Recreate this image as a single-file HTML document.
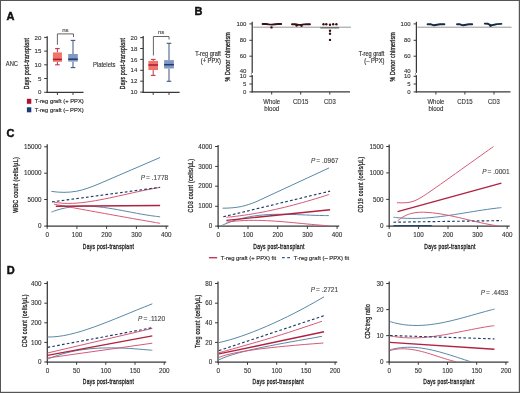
<!DOCTYPE html>
<html><head><meta charset="utf-8"><style>
html,body{margin:0;padding:0;background:#fff;}
body{width:520px;height:393px;overflow:hidden;position:relative;}
svg{display:block;filter:blur(0.35px);}
#bd{position:absolute;left:0;top:0;width:518px;height:391px;border:1px solid #555;box-shadow:inset -0.5px -0.5px 0 #bbb;box-sizing:content-box;}
text{font-family:"Liberation Sans", sans-serif;}
</style></head><body>
<svg width="520" height="393" viewBox="0 0 520 393">
<rect x="0" y="0" width="520" height="393" fill="#fff"/>
<text transform="translate(6.60,16.40)" text-anchor="start" dominant-baseline="central" style="font-size:11.0px;font-weight:bold;fill:#111;stroke:#111;stroke-width:0.45px;">A</text>
<line x1="47.20" y1="36.30" x2="47.20" y2="92.90" stroke="#383838" stroke-width="1.25" />
<line x1="46.60" y1="92.30" x2="83.50" y2="92.30" stroke="#383838" stroke-width="1.25" />
<line x1="44.20" y1="37.40" x2="47.20" y2="37.40" stroke="#383838" stroke-width="1.0" />
<text transform="translate(41.40,37.00)" text-anchor="end" dominant-baseline="central" style="font-size:6.1px;font-weight:normal;fill:#333;stroke:#333;stroke-width:0.12px;">20</text>
<line x1="44.20" y1="51.10" x2="47.20" y2="51.10" stroke="#383838" stroke-width="1.0" />
<text transform="translate(41.40,50.70)" text-anchor="end" dominant-baseline="central" style="font-size:6.1px;font-weight:normal;fill:#333;stroke:#333;stroke-width:0.12px;">15</text>
<line x1="44.20" y1="64.80" x2="47.20" y2="64.80" stroke="#383838" stroke-width="1.0" />
<text transform="translate(41.40,64.40)" text-anchor="end" dominant-baseline="central" style="font-size:6.1px;font-weight:normal;fill:#333;stroke:#333;stroke-width:0.12px;">10</text>
<line x1="44.20" y1="78.50" x2="47.20" y2="78.50" stroke="#383838" stroke-width="1.0" />
<text transform="translate(41.40,78.10)" text-anchor="end" dominant-baseline="central" style="font-size:6.1px;font-weight:normal;fill:#333;stroke:#333;stroke-width:0.12px;">5</text>
<line x1="44.20" y1="92.30" x2="47.20" y2="92.30" stroke="#383838" stroke-width="1.0" />
<text transform="translate(41.40,91.90)" text-anchor="end" dominant-baseline="central" style="font-size:6.1px;font-weight:normal;fill:#333;stroke:#333;stroke-width:0.12px;">0</text>
<line x1="57.40" y1="92.30" x2="57.40" y2="94.90" stroke="#383838" stroke-width="1.0" />
<line x1="73.00" y1="92.30" x2="73.00" y2="94.90" stroke="#383838" stroke-width="1.0" />
<line x1="57.40" y1="48.60" x2="57.40" y2="52.40" stroke="#c23350" stroke-width="1.0" />
<line x1="57.40" y1="61.80" x2="57.40" y2="64.80" stroke="#c23350" stroke-width="1.0" />
<line x1="55.10" y1="48.60" x2="59.70" y2="48.60" stroke="#c23350" stroke-width="1.1" />
<line x1="55.10" y1="64.80" x2="59.70" y2="64.80" stroke="#c23350" stroke-width="1.1" />
<rect x="52.90" y="52.40" width="9.00" height="9.40" fill="#f07468" stroke="none" stroke-width="0"/>
<line x1="52.90" y1="59.40" x2="61.90" y2="59.40" stroke="#a81a36" stroke-width="1.5" />
<line x1="73.00" y1="40.40" x2="73.00" y2="54.00" stroke="#3f557f" stroke-width="1.0" />
<line x1="73.00" y1="61.60" x2="73.00" y2="67.60" stroke="#3f557f" stroke-width="1.0" />
<line x1="70.70" y1="40.40" x2="75.30" y2="40.40" stroke="#3f557f" stroke-width="1.1" />
<line x1="70.70" y1="67.60" x2="75.30" y2="67.60" stroke="#3f557f" stroke-width="1.1" />
<rect x="68.20" y="54.00" width="9.60" height="7.60" fill="#8197c4" stroke="none" stroke-width="0"/>
<line x1="68.20" y1="59.20" x2="77.80" y2="59.20" stroke="#1e3a6a" stroke-width="1.5" />
<path d="M57.4,44.8 V33.9 H73.5 V37.1" fill="none" stroke="#555" stroke-width="0.9"/>
<text transform="translate(65.45,29.50)" text-anchor="middle" dominant-baseline="central" style="font-size:6.0px;font-weight:normal;fill:#444;stroke:#444;stroke-width:0.12px;">ns</text>
<text transform="translate(26.50,63.50) rotate(-90) scale(0.630,1)" text-anchor="middle" dominant-baseline="central" style="font-size:7.9px;font-weight:normal;fill:#2a2a2a;letter-spacing:0.45px;stroke:#2a2a2a;stroke-width:0.38px;">Days post-transplant</text>
<text transform="translate(5.80,64.00) scale(0.917,1)" text-anchor="start" dominant-baseline="central" style="font-size:6.3px;font-weight:normal;fill:#333;stroke:#333;stroke-width:0.12px;">ANC</text>
<line x1="143.20" y1="36.00" x2="143.20" y2="92.90" stroke="#383838" stroke-width="1.25" />
<line x1="142.60" y1="92.30" x2="179.60" y2="92.30" stroke="#383838" stroke-width="1.25" />
<line x1="140.20" y1="37.60" x2="143.20" y2="37.60" stroke="#383838" stroke-width="1.0" />
<text transform="translate(137.40,37.20)" text-anchor="end" dominant-baseline="central" style="font-size:6.1px;font-weight:normal;fill:#333;stroke:#333;stroke-width:0.12px;">20</text>
<line x1="140.20" y1="48.50" x2="143.20" y2="48.50" stroke="#383838" stroke-width="1.0" />
<text transform="translate(137.40,48.10)" text-anchor="end" dominant-baseline="central" style="font-size:6.1px;font-weight:normal;fill:#333;stroke:#333;stroke-width:0.12px;">18</text>
<line x1="140.20" y1="59.40" x2="143.20" y2="59.40" stroke="#383838" stroke-width="1.0" />
<text transform="translate(137.40,59.00)" text-anchor="end" dominant-baseline="central" style="font-size:6.1px;font-weight:normal;fill:#333;stroke:#333;stroke-width:0.12px;">16</text>
<line x1="140.20" y1="70.30" x2="143.20" y2="70.30" stroke="#383838" stroke-width="1.0" />
<text transform="translate(137.40,69.90)" text-anchor="end" dominant-baseline="central" style="font-size:6.1px;font-weight:normal;fill:#333;stroke:#333;stroke-width:0.12px;">14</text>
<line x1="140.20" y1="81.20" x2="143.20" y2="81.20" stroke="#383838" stroke-width="1.0" />
<text transform="translate(137.40,80.80)" text-anchor="end" dominant-baseline="central" style="font-size:6.1px;font-weight:normal;fill:#333;stroke:#333;stroke-width:0.12px;">12</text>
<line x1="140.20" y1="92.10" x2="143.20" y2="92.10" stroke="#383838" stroke-width="1.0" />
<text transform="translate(137.40,91.70)" text-anchor="end" dominant-baseline="central" style="font-size:6.1px;font-weight:normal;fill:#333;stroke:#333;stroke-width:0.12px;">10</text>
<line x1="153.20" y1="92.30" x2="153.20" y2="94.90" stroke="#383838" stroke-width="1.0" />
<line x1="169.00" y1="92.30" x2="169.00" y2="94.90" stroke="#383838" stroke-width="1.0" />
<line x1="153.20" y1="59.40" x2="153.20" y2="60.90" stroke="#c23350" stroke-width="1.0" />
<line x1="153.20" y1="70.00" x2="153.20" y2="75.40" stroke="#c23350" stroke-width="1.0" />
<line x1="150.90" y1="59.40" x2="155.50" y2="59.40" stroke="#c23350" stroke-width="1.1" />
<line x1="150.90" y1="75.40" x2="155.50" y2="75.40" stroke="#c23350" stroke-width="1.1" />
<rect x="148.40" y="60.90" width="9.60" height="9.10" fill="#f07468" stroke="none" stroke-width="0"/>
<line x1="148.40" y1="65.00" x2="158.00" y2="65.00" stroke="#a81a36" stroke-width="1.5" />
<line x1="169.00" y1="43.30" x2="169.00" y2="60.10" stroke="#3f557f" stroke-width="1.0" />
<line x1="169.00" y1="68.50" x2="169.00" y2="81.30" stroke="#3f557f" stroke-width="1.0" />
<line x1="166.70" y1="43.30" x2="171.30" y2="43.30" stroke="#3f557f" stroke-width="1.1" />
<line x1="166.70" y1="81.30" x2="171.30" y2="81.30" stroke="#3f557f" stroke-width="1.1" />
<rect x="164.10" y="60.10" width="9.80" height="8.40" fill="#8197c4" stroke="none" stroke-width="0"/>
<line x1="164.10" y1="64.70" x2="173.90" y2="64.70" stroke="#1e3a6a" stroke-width="1.5" />
<path d="M153.4,55.5 V36.5 H169.0 V39.5" fill="none" stroke="#555" stroke-width="0.9"/>
<text transform="translate(161.20,32.40)" text-anchor="middle" dominant-baseline="central" style="font-size:6.0px;font-weight:normal;fill:#444;stroke:#444;stroke-width:0.12px;">ns</text>
<text transform="translate(122.20,63.50) rotate(-90) scale(0.630,1)" text-anchor="middle" dominant-baseline="central" style="font-size:7.9px;font-weight:normal;fill:#2a2a2a;letter-spacing:0.45px;stroke:#2a2a2a;stroke-width:0.38px;">Days post-transplant</text>
<text transform="translate(93.00,64.00) scale(0.931,1)" text-anchor="start" dominant-baseline="central" style="font-size:6.3px;font-weight:normal;fill:#333;stroke:#333;stroke-width:0.12px;">Platelets</text>
<rect x="26.90" y="98.80" width="4.40" height="5.00" fill="#b01030" stroke="none" stroke-width="0"/>
<text transform="translate(34.75,101.40) scale(0.970,1)" text-anchor="start" dominant-baseline="central" style="font-size:6.0px;font-weight:normal;fill:#333;stroke:#333;stroke-width:0.18px;">T-reg graft (+ PPX)</text>
<rect x="26.90" y="107.30" width="4.40" height="5.00" fill="#1a3a78" stroke="none" stroke-width="0"/>
<text transform="translate(34.75,109.90) scale(0.973,1)" text-anchor="start" dominant-baseline="central" style="font-size:6.0px;font-weight:normal;fill:#333;stroke:#333;stroke-width:0.18px;">T-reg graft (– PPX)</text>
<text transform="translate(194.60,11.40)" text-anchor="start" dominant-baseline="central" style="font-size:11.0px;font-weight:bold;fill:#111;stroke:#111;stroke-width:0.45px;">B</text>
<line x1="252.20" y1="21.80" x2="252.20" y2="72.40" stroke="#383838" stroke-width="1.25" />
<line x1="252.20" y1="75.20" x2="252.20" y2="92.50" stroke="#383838" stroke-width="1.25" />
<path d="M252.5,72.2 L251.29999999999998,73.6 M251.29999999999998,74.9 L252.5,76.0" stroke="#383838" stroke-width="1.0"/>
<line x1="251.60" y1="91.90" x2="350.00" y2="91.90" stroke="#383838" stroke-width="1.25" />
<line x1="249.40" y1="23.90" x2="252.20" y2="23.90" stroke="#383838" stroke-width="1.0" />
<text transform="translate(246.40,23.90)" text-anchor="end" dominant-baseline="central" style="font-size:6.0px;font-weight:normal;fill:#333;stroke:#333;stroke-width:0.12px;">100</text>
<line x1="249.40" y1="40.30" x2="252.20" y2="40.30" stroke="#383838" stroke-width="1.0" />
<text transform="translate(246.40,40.30)" text-anchor="end" dominant-baseline="central" style="font-size:6.0px;font-weight:normal;fill:#333;stroke:#333;stroke-width:0.12px;">80</text>
<line x1="249.40" y1="56.20" x2="252.20" y2="56.20" stroke="#383838" stroke-width="1.0" />
<text transform="translate(246.40,56.20)" text-anchor="end" dominant-baseline="central" style="font-size:6.0px;font-weight:normal;fill:#333;stroke:#333;stroke-width:0.12px;">60</text>
<text transform="translate(246.40,70.90)" text-anchor="end" dominant-baseline="central" style="font-size:6.0px;font-weight:normal;fill:#333;stroke:#333;stroke-width:0.12px;">40</text>
<line x1="249.40" y1="76.30" x2="252.20" y2="76.30" stroke="#383838" stroke-width="1.0" />
<text transform="translate(246.40,76.30)" text-anchor="end" dominant-baseline="central" style="font-size:6.0px;font-weight:normal;fill:#333;stroke:#333;stroke-width:0.12px;">10</text>
<line x1="249.40" y1="84.00" x2="252.20" y2="84.00" stroke="#383838" stroke-width="1.0" />
<text transform="translate(246.40,84.00)" text-anchor="end" dominant-baseline="central" style="font-size:6.0px;font-weight:normal;fill:#333;stroke:#333;stroke-width:0.12px;">5</text>
<line x1="249.40" y1="91.90" x2="252.20" y2="91.90" stroke="#383838" stroke-width="1.0" />
<text transform="translate(246.40,91.90)" text-anchor="end" dominant-baseline="central" style="font-size:6.0px;font-weight:normal;fill:#333;stroke:#333;stroke-width:0.12px;">0</text>
<line x1="271.70" y1="91.90" x2="271.70" y2="94.50" stroke="#383838" stroke-width="1.0" />
<line x1="300.70" y1="91.90" x2="300.70" y2="94.50" stroke="#383838" stroke-width="1.0" />
<line x1="329.80" y1="91.90" x2="329.80" y2="94.50" stroke="#383838" stroke-width="1.0" />
<text transform="translate(271.70,101.30) scale(0.932,1)" text-anchor="middle" dominant-baseline="central" style="font-size:6.4px;font-weight:normal;fill:#333;stroke:#333;stroke-width:0.12px;">Whole</text>
<text transform="translate(271.70,108.90) scale(0.958,1)" text-anchor="middle" dominant-baseline="central" style="font-size:6.4px;font-weight:normal;fill:#333;stroke:#333;stroke-width:0.12px;">blood</text>
<text transform="translate(300.70,101.30) scale(0.947,1)" text-anchor="middle" dominant-baseline="central" style="font-size:6.4px;font-weight:normal;fill:#333;stroke:#333;stroke-width:0.12px;">CD15</text>
<text transform="translate(329.80,101.30) scale(0.922,1)" text-anchor="middle" dominant-baseline="central" style="font-size:6.4px;font-weight:normal;fill:#333;stroke:#333;stroke-width:0.12px;">CD3</text>
<line x1="253.20" y1="27.20" x2="351.00" y2="27.20" stroke="#7a7a7a" stroke-width="0.8" />
<text transform="translate(220.90,53.20) scale(0.847,1)" text-anchor="end" dominant-baseline="central" style="font-size:6.6px;font-weight:normal;fill:#333;stroke:#333;stroke-width:0.18px;">T-reg graft</text>
<text transform="translate(220.90,60.30) scale(0.867,1)" text-anchor="end" dominant-baseline="central" style="font-size:6.6px;font-weight:normal;fill:#333;stroke:#333;stroke-width:0.18px;">(+ PPX)</text>
<text transform="translate(227.40,56.80) rotate(-90) scale(0.757,1)" text-anchor="middle" dominant-baseline="central" style="font-size:6.9px;font-weight:normal;fill:#2a2a2a;letter-spacing:0.3px;stroke:#2a2a2a;stroke-width:0.35px;">% Donor chimerism</text>
<path d="M262.60,24.00 L266.00,24.00 L269.00,24.40 L272.00,24.60 L275.00,24.20 L278.00,24.00 L281.20,24.00" fill="none" stroke="#3a0e16" stroke-width="1.9" stroke-linecap="round" stroke-linejoin="round"/>
<path d="M292.00,24.20 L295.00,24.30 L298.00,24.80 L301.00,24.90 L304.00,24.40 L307.00,24.20 L310.00,24.20" fill="none" stroke="#3a0e16" stroke-width="1.9" stroke-linecap="round" stroke-linejoin="round"/>
<circle cx="271.50" cy="27.40" r="1.2" fill="#3a0e16"/>
<circle cx="296.60" cy="25.60" r="1.2" fill="#3a0e16"/>
<circle cx="301.50" cy="25.80" r="1.2" fill="#3a0e16"/>
<circle cx="323.50" cy="24.30" r="1.2" fill="#3a0e16"/>
<circle cx="326.30" cy="24.30" r="1.2" fill="#3a0e16"/>
<circle cx="330.00" cy="24.80" r="1.2" fill="#3a0e16"/>
<circle cx="333.20" cy="24.30" r="1.2" fill="#3a0e16"/>
<circle cx="336.40" cy="24.30" r="1.2" fill="#3a0e16"/>
<circle cx="330.00" cy="30.70" r="1.2" fill="#3a0e16"/>
<circle cx="330.00" cy="33.70" r="1.2" fill="#3a0e16"/>
<circle cx="330.00" cy="39.90" r="1.2" fill="#3a0e16"/>
<line x1="320.30" y1="27.90" x2="339.10" y2="27.90" stroke="#3a3a3a" stroke-width="0.9" />
<line x1="416.40" y1="21.80" x2="416.40" y2="72.40" stroke="#383838" stroke-width="1.25" />
<line x1="416.40" y1="75.20" x2="416.40" y2="92.50" stroke="#383838" stroke-width="1.25" />
<path d="M416.7,72.2 L415.5,73.6 M415.5,74.9 L416.7,76.0" stroke="#383838" stroke-width="1.0"/>
<line x1="415.80" y1="91.90" x2="510.50" y2="91.90" stroke="#383838" stroke-width="1.25" />
<line x1="413.60" y1="23.90" x2="416.40" y2="23.90" stroke="#383838" stroke-width="1.0" />
<text transform="translate(410.60,23.90)" text-anchor="end" dominant-baseline="central" style="font-size:6.0px;font-weight:normal;fill:#333;stroke:#333;stroke-width:0.12px;">100</text>
<line x1="413.60" y1="40.30" x2="416.40" y2="40.30" stroke="#383838" stroke-width="1.0" />
<text transform="translate(410.60,40.30)" text-anchor="end" dominant-baseline="central" style="font-size:6.0px;font-weight:normal;fill:#333;stroke:#333;stroke-width:0.12px;">80</text>
<line x1="413.60" y1="56.20" x2="416.40" y2="56.20" stroke="#383838" stroke-width="1.0" />
<text transform="translate(410.60,56.20)" text-anchor="end" dominant-baseline="central" style="font-size:6.0px;font-weight:normal;fill:#333;stroke:#333;stroke-width:0.12px;">60</text>
<text transform="translate(410.60,70.90)" text-anchor="end" dominant-baseline="central" style="font-size:6.0px;font-weight:normal;fill:#333;stroke:#333;stroke-width:0.12px;">40</text>
<line x1="413.60" y1="76.30" x2="416.40" y2="76.30" stroke="#383838" stroke-width="1.0" />
<text transform="translate(410.60,76.30)" text-anchor="end" dominant-baseline="central" style="font-size:6.0px;font-weight:normal;fill:#333;stroke:#333;stroke-width:0.12px;">10</text>
<line x1="413.60" y1="84.00" x2="416.40" y2="84.00" stroke="#383838" stroke-width="1.0" />
<text transform="translate(410.60,84.00)" text-anchor="end" dominant-baseline="central" style="font-size:6.0px;font-weight:normal;fill:#333;stroke:#333;stroke-width:0.12px;">5</text>
<line x1="413.60" y1="91.90" x2="416.40" y2="91.90" stroke="#383838" stroke-width="1.0" />
<text transform="translate(410.60,91.90)" text-anchor="end" dominant-baseline="central" style="font-size:6.0px;font-weight:normal;fill:#333;stroke:#333;stroke-width:0.12px;">0</text>
<line x1="435.90" y1="91.90" x2="435.90" y2="94.50" stroke="#383838" stroke-width="1.0" />
<line x1="464.90" y1="91.90" x2="464.90" y2="94.50" stroke="#383838" stroke-width="1.0" />
<line x1="494.00" y1="91.90" x2="494.00" y2="94.50" stroke="#383838" stroke-width="1.0" />
<text transform="translate(435.90,101.30) scale(0.932,1)" text-anchor="middle" dominant-baseline="central" style="font-size:6.4px;font-weight:normal;fill:#333;stroke:#333;stroke-width:0.12px;">Whole</text>
<text transform="translate(435.90,108.90) scale(0.958,1)" text-anchor="middle" dominant-baseline="central" style="font-size:6.4px;font-weight:normal;fill:#333;stroke:#333;stroke-width:0.12px;">blood</text>
<text transform="translate(464.90,101.30) scale(0.947,1)" text-anchor="middle" dominant-baseline="central" style="font-size:6.4px;font-weight:normal;fill:#333;stroke:#333;stroke-width:0.12px;">CD15</text>
<text transform="translate(494.00,101.30) scale(0.922,1)" text-anchor="middle" dominant-baseline="central" style="font-size:6.4px;font-weight:normal;fill:#333;stroke:#333;stroke-width:0.12px;">CD3</text>
<line x1="417.40" y1="27.20" x2="511.50" y2="27.20" stroke="#7a7a7a" stroke-width="0.8" />
<text transform="translate(384.40,53.00) scale(0.847,1)" text-anchor="end" dominant-baseline="central" style="font-size:6.6px;font-weight:normal;fill:#333;stroke:#333;stroke-width:0.18px;">T-reg graft</text>
<text transform="translate(384.40,60.20) scale(0.874,1)" text-anchor="end" dominant-baseline="central" style="font-size:6.6px;font-weight:normal;fill:#333;stroke:#333;stroke-width:0.18px;">(– PPX)</text>
<text transform="translate(391.90,56.80) rotate(-90) scale(0.757,1)" text-anchor="middle" dominant-baseline="central" style="font-size:6.9px;font-weight:normal;fill:#2a2a2a;letter-spacing:0.3px;stroke:#2a2a2a;stroke-width:0.35px;">% Donor chimerism</text>
<path d="M427.60,24.30 L431.00,24.30 L434.00,25.30 L437.00,24.70 L440.00,24.20 L444.40,24.20" fill="none" stroke="#172a45" stroke-width="1.9" stroke-linecap="round" stroke-linejoin="round"/>
<path d="M457.00,24.30 L460.00,24.30 L463.00,25.30 L466.00,24.70 L469.00,24.20 L472.20,24.20" fill="none" stroke="#172a45" stroke-width="1.9" stroke-linecap="round" stroke-linejoin="round"/>
<path d="M484.80,23.60 L488.00,23.80 L491.00,25.40 L494.00,24.80 L497.00,24.10 L501.40,23.90" fill="none" stroke="#172a45" stroke-width="1.9" stroke-linecap="round" stroke-linejoin="round"/>
<circle cx="490.50" cy="25.80" r="1.2" fill="#172a45"/>
<text transform="translate(6.60,133.30)" text-anchor="start" dominant-baseline="central" style="font-size:11.0px;font-weight:bold;fill:#111;stroke:#111;stroke-width:0.45px;">C</text>
<line x1="47.20" y1="144.20" x2="47.20" y2="226.70" stroke="#383838" stroke-width="1.25" />
<line x1="46.60" y1="226.10" x2="168.40" y2="226.10" stroke="#383838" stroke-width="1.25" />
<line x1="44.20" y1="146.80" x2="47.20" y2="146.80" stroke="#383838" stroke-width="1.0" />
<text transform="translate(41.40,146.40)" text-anchor="end" dominant-baseline="central" style="font-size:6.3px;font-weight:normal;fill:#333;stroke:#333;stroke-width:0.12px;">15000</text>
<line x1="44.20" y1="173.20" x2="47.20" y2="173.20" stroke="#383838" stroke-width="1.0" />
<text transform="translate(41.40,172.80)" text-anchor="end" dominant-baseline="central" style="font-size:6.3px;font-weight:normal;fill:#333;stroke:#333;stroke-width:0.12px;">10000</text>
<line x1="44.20" y1="199.50" x2="47.20" y2="199.50" stroke="#383838" stroke-width="1.0" />
<text transform="translate(41.40,199.10)" text-anchor="end" dominant-baseline="central" style="font-size:6.3px;font-weight:normal;fill:#333;stroke:#333;stroke-width:0.12px;">5000</text>
<line x1="44.20" y1="226.10" x2="47.20" y2="226.10" stroke="#383838" stroke-width="1.0" />
<text transform="translate(41.40,225.70)" text-anchor="end" dominant-baseline="central" style="font-size:6.3px;font-weight:normal;fill:#333;stroke:#333;stroke-width:0.12px;">0</text>
<line x1="47.20" y1="226.10" x2="47.20" y2="228.90" stroke="#383838" stroke-width="1.0" />
<text transform="translate(47.20,234.70)" text-anchor="middle" dominant-baseline="central" style="font-size:6.3px;font-weight:normal;fill:#333;stroke:#333;stroke-width:0.12px;">0</text>
<line x1="76.90" y1="226.10" x2="76.90" y2="228.90" stroke="#383838" stroke-width="1.0" />
<text transform="translate(76.90,234.70)" text-anchor="middle" dominant-baseline="central" style="font-size:6.3px;font-weight:normal;fill:#333;stroke:#333;stroke-width:0.12px;">100</text>
<line x1="106.60" y1="226.10" x2="106.60" y2="228.90" stroke="#383838" stroke-width="1.0" />
<text transform="translate(106.60,234.70)" text-anchor="middle" dominant-baseline="central" style="font-size:6.3px;font-weight:normal;fill:#333;stroke:#333;stroke-width:0.12px;">200</text>
<line x1="136.40" y1="226.10" x2="136.40" y2="228.90" stroke="#383838" stroke-width="1.0" />
<text transform="translate(136.40,234.70)" text-anchor="middle" dominant-baseline="central" style="font-size:6.3px;font-weight:normal;fill:#333;stroke:#333;stroke-width:0.12px;">300</text>
<line x1="166.20" y1="226.10" x2="166.20" y2="228.90" stroke="#383838" stroke-width="1.0" />
<text transform="translate(166.20,234.70)" text-anchor="middle" dominant-baseline="central" style="font-size:6.3px;font-weight:normal;fill:#333;stroke:#333;stroke-width:0.12px;">400</text>
<text transform="translate(16.30,184.95) rotate(-90) scale(0.833,1)" text-anchor="middle" dominant-baseline="central" style="font-size:6.5px;font-weight:normal;fill:#2a2a2a;letter-spacing:0.3px;stroke:#2a2a2a;stroke-width:0.3px;">WBC count (cells/µL)</text>
<text transform="translate(140.80,177.00)" text-anchor="start" dominant-baseline="central" style="font-size:6.4px;font-weight:normal;fill:#444;stroke:#444;stroke-width:0.12px;font-style:italic;">P</text>
<text transform="translate(146.10,177.00)" text-anchor="start" dominant-baseline="central" style="font-size:6.6px;font-weight:normal;fill:#444;stroke:#444;stroke-width:0.12px;">= .1778</text>
<text transform="translate(108.50,245.80) scale(0.630,1)" text-anchor="middle" dominant-baseline="central" style="font-size:7.9px;font-weight:normal;fill:#2a2a2a;letter-spacing:0.45px;stroke:#2a2a2a;stroke-width:0.38px;">Days post-transplant</text>
<path d="M51.4,191.4 C60,192.6 68,192.8 76.8,191.2 C84,189.9 92,186.7 100,183.4 L160.1,157.5" fill="none" stroke="#5a88a8" stroke-width="1.0"/>
<path d="M53.90,202.16 C54.67,202.28 56.98,202.66 58.52,202.84 C60.06,203.02 61.60,203.15 63.13,203.25 C64.67,203.34 66.21,203.39 67.75,203.41 C69.29,203.42 70.83,203.40 72.37,203.34 C73.91,203.29 75.45,203.20 76.99,203.09 C78.53,202.97 80.07,202.83 81.60,202.66 C83.14,202.50 84.68,202.31 86.22,202.10 C87.76,201.89 89.30,201.66 90.84,201.42 C92.38,201.18 93.92,200.92 95.46,200.65 C97.00,200.38 98.53,200.10 100.07,199.82 C101.61,199.53 103.15,199.23 104.69,198.92 C106.23,198.61 107.77,198.30 109.31,197.98 C110.85,197.65 112.39,197.33 113.93,196.99 C115.47,196.66 117.00,196.32 118.54,195.99 C120.08,195.65 121.62,195.30 123.16,194.96 C124.70,194.62 126.24,194.27 127.78,193.93 C129.32,193.59 130.86,193.24 132.40,192.90 C133.93,192.56 135.47,192.22 137.01,191.89 C138.55,191.55 140.09,191.22 141.63,190.90 C143.17,190.58 144.71,190.26 146.25,189.95 C147.79,189.64 149.33,189.33 150.87,189.04 C152.40,188.75 153.94,188.46 155.48,188.19 C157.02,187.92 159.33,187.54 160.10,187.41" fill="none" stroke="#d65a78" stroke-width="1.0"/>
<path d="M51.40,212.07 C52.19,211.78 54.55,210.88 56.13,210.36 C57.70,209.85 59.28,209.39 60.85,208.98 C62.43,208.57 64.00,208.21 65.58,207.89 C67.15,207.57 68.73,207.31 70.30,207.08 C71.88,206.85 73.46,206.67 75.03,206.53 C76.61,206.38 78.18,206.28 79.76,206.21 C81.33,206.14 82.91,206.11 84.48,206.11 C86.06,206.10 87.63,206.14 89.21,206.20 C90.78,206.26 92.36,206.35 93.93,206.46 C95.51,206.58 97.09,206.72 98.66,206.88 C100.24,207.04 101.81,207.23 103.39,207.43 C104.96,207.63 106.54,207.86 108.11,208.09 C109.69,208.33 111.26,208.58 112.84,208.84 C114.41,209.11 115.99,209.38 117.57,209.67 C119.14,209.95 120.72,210.24 122.29,210.54 C123.87,210.83 125.44,211.13 127.02,211.44 C128.59,211.74 130.17,212.04 131.74,212.34 C133.32,212.64 134.89,212.94 136.47,213.24 C138.04,213.53 139.62,213.82 141.20,214.10 C142.77,214.38 144.35,214.65 145.92,214.90 C147.50,215.16 149.07,215.41 150.65,215.63 C152.22,215.86 153.80,216.08 155.37,216.27 C156.95,216.46 159.31,216.70 160.10,216.79" fill="none" stroke="#5a88a8" stroke-width="1.0"/>
<path d="M53.90,204.13 C54.67,204.27 56.98,204.70 58.52,204.99 C60.06,205.28 61.60,205.57 63.13,205.86 C64.67,206.14 66.21,206.43 67.75,206.72 C69.29,207.01 70.83,207.29 72.37,207.58 C73.91,207.86 75.45,208.15 76.99,208.43 C78.53,208.72 80.07,209.00 81.60,209.29 C83.14,209.57 84.68,209.86 86.22,210.14 C87.76,210.42 89.30,210.71 90.84,210.99 C92.38,211.27 93.92,211.55 95.46,211.83 C97.00,212.11 98.53,212.39 100.07,212.67 C101.61,212.95 103.15,213.23 104.69,213.51 C106.23,213.79 107.77,214.07 109.31,214.35 C110.85,214.63 112.39,214.91 113.93,215.18 C115.47,215.46 117.00,215.74 118.54,216.01 C120.08,216.29 121.62,216.56 123.16,216.84 C124.70,217.11 126.24,217.39 127.78,217.66 C129.32,217.93 130.86,218.21 132.40,218.48 C133.93,218.75 135.47,219.02 137.01,219.29 C138.55,219.57 140.09,219.84 141.63,220.11 C143.17,220.38 144.71,220.65 146.25,220.91 C147.79,221.18 149.33,221.45 150.87,221.72 C152.40,221.99 153.94,222.25 155.48,222.52 C157.02,222.79 159.33,223.18 160.10,223.32" fill="none" stroke="#d65a78" stroke-width="1.0"/>
<path d="M55.80,206.30 L160.10,205.50" fill="none" stroke="#b0223f" stroke-width="1.4"/>
<path d="M52.00,201.90 L160.10,187.30" fill="none" stroke="#1d3d63" stroke-width="1.15" stroke-dasharray="2.7,2.2"/>
<line x1="218.10" y1="145.00" x2="218.10" y2="226.70" stroke="#383838" stroke-width="1.25" />
<line x1="217.50" y1="226.10" x2="339.20" y2="226.10" stroke="#383838" stroke-width="1.25" />
<line x1="215.10" y1="146.50" x2="218.10" y2="146.50" stroke="#383838" stroke-width="1.0" />
<text transform="translate(212.30,146.10)" text-anchor="end" dominant-baseline="central" style="font-size:6.3px;font-weight:normal;fill:#333;stroke:#333;stroke-width:0.12px;">4000</text>
<line x1="215.10" y1="166.40" x2="218.10" y2="166.40" stroke="#383838" stroke-width="1.0" />
<text transform="translate(212.30,166.00)" text-anchor="end" dominant-baseline="central" style="font-size:6.3px;font-weight:normal;fill:#333;stroke:#333;stroke-width:0.12px;">3000</text>
<line x1="215.10" y1="186.20" x2="218.10" y2="186.20" stroke="#383838" stroke-width="1.0" />
<text transform="translate(212.30,185.80)" text-anchor="end" dominant-baseline="central" style="font-size:6.3px;font-weight:normal;fill:#333;stroke:#333;stroke-width:0.12px;">2000</text>
<line x1="215.10" y1="206.30" x2="218.10" y2="206.30" stroke="#383838" stroke-width="1.0" />
<text transform="translate(212.30,205.90)" text-anchor="end" dominant-baseline="central" style="font-size:6.3px;font-weight:normal;fill:#333;stroke:#333;stroke-width:0.12px;">1000</text>
<line x1="215.10" y1="226.10" x2="218.10" y2="226.10" stroke="#383838" stroke-width="1.0" />
<text transform="translate(212.30,225.70)" text-anchor="end" dominant-baseline="central" style="font-size:6.3px;font-weight:normal;fill:#333;stroke:#333;stroke-width:0.12px;">0</text>
<line x1="218.30" y1="226.10" x2="218.30" y2="228.90" stroke="#383838" stroke-width="1.0" />
<text transform="translate(218.30,234.70)" text-anchor="middle" dominant-baseline="central" style="font-size:6.3px;font-weight:normal;fill:#333;stroke:#333;stroke-width:0.12px;">0</text>
<line x1="248.00" y1="226.10" x2="248.00" y2="228.90" stroke="#383838" stroke-width="1.0" />
<text transform="translate(248.00,234.70)" text-anchor="middle" dominant-baseline="central" style="font-size:6.3px;font-weight:normal;fill:#333;stroke:#333;stroke-width:0.12px;">100</text>
<line x1="277.70" y1="226.10" x2="277.70" y2="228.90" stroke="#383838" stroke-width="1.0" />
<text transform="translate(277.70,234.70)" text-anchor="middle" dominant-baseline="central" style="font-size:6.3px;font-weight:normal;fill:#333;stroke:#333;stroke-width:0.12px;">200</text>
<line x1="307.40" y1="226.10" x2="307.40" y2="228.90" stroke="#383838" stroke-width="1.0" />
<text transform="translate(307.40,234.70)" text-anchor="middle" dominant-baseline="central" style="font-size:6.3px;font-weight:normal;fill:#333;stroke:#333;stroke-width:0.12px;">300</text>
<line x1="337.10" y1="226.10" x2="337.10" y2="228.90" stroke="#383838" stroke-width="1.0" />
<text transform="translate(337.10,234.70)" text-anchor="middle" dominant-baseline="central" style="font-size:6.3px;font-weight:normal;fill:#333;stroke:#333;stroke-width:0.12px;">400</text>
<text transform="translate(190.40,185.55) rotate(-90) scale(0.827,1)" text-anchor="middle" dominant-baseline="central" style="font-size:6.5px;font-weight:normal;fill:#2a2a2a;letter-spacing:0.3px;stroke:#2a2a2a;stroke-width:0.3px;">CD3 count (cells/µL)</text>
<text transform="translate(311.00,160.00)" text-anchor="start" dominant-baseline="central" style="font-size:6.4px;font-weight:normal;fill:#444;stroke:#444;stroke-width:0.12px;font-style:italic;">P</text>
<text transform="translate(316.30,160.00)" text-anchor="start" dominant-baseline="central" style="font-size:6.6px;font-weight:normal;fill:#444;stroke:#444;stroke-width:0.12px;">= .0967</text>
<text transform="translate(279.00,246.00) scale(0.630,1)" text-anchor="middle" dominant-baseline="central" style="font-size:7.9px;font-weight:normal;fill:#2a2a2a;letter-spacing:0.45px;stroke:#2a2a2a;stroke-width:0.38px;">Days post-transplant</text>
<path d="M222.6,208.2 C238,208.2 246,205.8 256,201.8 L329.1,167.9" fill="none" stroke="#5a88a8" stroke-width="1.0"/>
<path d="M226.40,217.31 C227.14,217.24 229.38,217.03 230.87,216.87 C232.35,216.71 233.84,216.54 235.33,216.37 C236.82,216.19 238.31,216.00 239.80,215.81 C241.28,215.61 242.77,215.40 244.26,215.19 C245.75,214.97 247.24,214.75 248.73,214.52 C250.21,214.28 251.70,214.04 253.19,213.79 C254.68,213.54 256.17,213.28 257.66,213.01 C259.14,212.74 260.63,212.46 262.12,212.18 C263.61,211.89 265.10,211.60 266.59,211.30 C268.08,211.00 269.56,210.69 271.05,210.37 C272.54,210.05 274.03,209.72 275.52,209.39 C277.01,209.06 278.49,208.72 279.98,208.37 C281.47,208.02 282.96,207.66 284.45,207.30 C285.94,206.94 287.42,206.57 288.91,206.19 C290.40,205.81 291.89,205.43 293.38,205.04 C294.87,204.65 296.36,204.25 297.84,203.84 C299.33,203.44 300.82,203.03 302.31,202.61 C303.80,202.19 305.29,201.77 306.77,201.34 C308.26,200.91 309.75,200.48 311.24,200.03 C312.73,199.59 314.22,199.14 315.70,198.69 C317.19,198.24 318.68,197.78 320.17,197.32 C321.66,196.85 323.15,196.38 324.63,195.91 C326.12,195.43 328.36,194.71 329.10,194.47" fill="none" stroke="#d65a78" stroke-width="1.0"/>
<path d="M221.40,225.64 C222.18,225.29 224.52,224.21 226.08,223.57 C227.64,222.92 229.20,222.32 230.77,221.75 C232.33,221.19 233.89,220.67 235.45,220.18 C237.01,219.69 238.57,219.24 240.13,218.83 C241.69,218.41 243.25,218.04 244.81,217.69 C246.37,217.34 247.93,217.03 249.50,216.74 C251.06,216.45 252.62,216.20 254.18,215.97 C255.74,215.74 257.30,215.54 258.86,215.37 C260.42,215.19 261.98,215.04 263.54,214.91 C265.10,214.78 266.67,214.68 268.23,214.59 C269.79,214.50 271.35,214.43 272.91,214.38 C274.47,214.33 276.03,214.30 277.59,214.28 C279.15,214.26 280.71,214.26 282.27,214.27 C283.83,214.27 285.40,214.30 286.96,214.32 C288.52,214.35 290.08,214.39 291.64,214.44 C293.20,214.49 294.76,214.54 296.32,214.60 C297.88,214.66 299.44,214.72 301.00,214.78 C302.57,214.85 304.13,214.91 305.69,214.98 C307.25,215.04 308.81,215.11 310.37,215.17 C311.93,215.23 313.49,215.29 315.05,215.35 C316.61,215.40 318.17,215.45 319.73,215.49 C321.30,215.53 322.86,215.56 324.42,215.58 C325.98,215.60 328.32,215.60 329.10,215.61" fill="none" stroke="#5a88a8" stroke-width="1.0"/>
<path d="M226.40,222.14 C227.14,222.05 229.38,221.74 230.87,221.57 C232.35,221.40 233.84,221.25 235.33,221.11 C236.82,220.98 238.31,220.87 239.80,220.77 C241.28,220.67 242.77,220.60 244.26,220.53 C245.75,220.47 247.24,220.43 248.73,220.39 C250.21,220.36 251.70,220.35 253.19,220.34 C254.68,220.34 256.17,220.35 257.66,220.38 C259.14,220.40 260.63,220.44 262.12,220.48 C263.61,220.53 265.10,220.59 266.59,220.66 C268.08,220.73 269.56,220.81 271.05,220.89 C272.54,220.98 274.03,221.07 275.52,221.18 C277.01,221.28 278.49,221.39 279.98,221.50 C281.47,221.62 282.96,221.74 284.45,221.87 C285.94,221.99 287.42,222.13 288.91,222.26 C290.40,222.39 291.89,222.53 293.38,222.67 C294.87,222.81 296.36,222.95 297.84,223.10 C299.33,223.24 300.82,223.38 302.31,223.53 C303.80,223.67 305.29,223.81 306.77,223.96 C308.26,224.10 309.75,224.24 311.24,224.37 C312.73,224.51 314.22,224.64 315.70,224.77 C317.19,224.90 318.68,225.03 320.17,225.15 C321.66,225.27 323.15,225.38 324.63,225.49 C326.12,225.59 328.36,225.74 329.10,225.79" fill="none" stroke="#d65a78" stroke-width="1.0"/>
<path d="M226.40,220.40 L330.10,209.70" fill="none" stroke="#b0223f" stroke-width="1.4"/>
<path d="M223.30,216.80 L330.10,191.10" fill="none" stroke="#1d3d63" stroke-width="1.15" stroke-dasharray="2.7,2.2"/>
<line x1="389.20" y1="144.50" x2="389.20" y2="226.70" stroke="#383838" stroke-width="1.25" />
<line x1="388.60" y1="226.10" x2="509.70" y2="226.10" stroke="#383838" stroke-width="1.25" />
<line x1="386.20" y1="146.50" x2="389.20" y2="146.50" stroke="#383838" stroke-width="1.0" />
<text transform="translate(383.40,146.10)" text-anchor="end" dominant-baseline="central" style="font-size:6.3px;font-weight:normal;fill:#333;stroke:#333;stroke-width:0.12px;">1500</text>
<line x1="386.20" y1="172.90" x2="389.20" y2="172.90" stroke="#383838" stroke-width="1.0" />
<text transform="translate(383.40,172.50)" text-anchor="end" dominant-baseline="central" style="font-size:6.3px;font-weight:normal;fill:#333;stroke:#333;stroke-width:0.12px;">1000</text>
<line x1="386.20" y1="199.40" x2="389.20" y2="199.40" stroke="#383838" stroke-width="1.0" />
<text transform="translate(383.40,199.00)" text-anchor="end" dominant-baseline="central" style="font-size:6.3px;font-weight:normal;fill:#333;stroke:#333;stroke-width:0.12px;">500</text>
<line x1="386.20" y1="226.10" x2="389.20" y2="226.10" stroke="#383838" stroke-width="1.0" />
<text transform="translate(383.40,225.70)" text-anchor="end" dominant-baseline="central" style="font-size:6.3px;font-weight:normal;fill:#333;stroke:#333;stroke-width:0.12px;">0</text>
<line x1="389.20" y1="226.10" x2="389.20" y2="228.90" stroke="#383838" stroke-width="1.0" />
<text transform="translate(389.20,234.70)" text-anchor="middle" dominant-baseline="central" style="font-size:6.3px;font-weight:normal;fill:#333;stroke:#333;stroke-width:0.12px;">0</text>
<line x1="418.60" y1="226.10" x2="418.60" y2="228.90" stroke="#383838" stroke-width="1.0" />
<text transform="translate(418.60,234.70)" text-anchor="middle" dominant-baseline="central" style="font-size:6.3px;font-weight:normal;fill:#333;stroke:#333;stroke-width:0.12px;">100</text>
<line x1="448.00" y1="226.10" x2="448.00" y2="228.90" stroke="#383838" stroke-width="1.0" />
<text transform="translate(448.00,234.70)" text-anchor="middle" dominant-baseline="central" style="font-size:6.3px;font-weight:normal;fill:#333;stroke:#333;stroke-width:0.12px;">200</text>
<line x1="477.60" y1="226.10" x2="477.60" y2="228.90" stroke="#383838" stroke-width="1.0" />
<text transform="translate(477.60,234.70)" text-anchor="middle" dominant-baseline="central" style="font-size:6.3px;font-weight:normal;fill:#333;stroke:#333;stroke-width:0.12px;">300</text>
<line x1="507.20" y1="226.10" x2="507.20" y2="228.90" stroke="#383838" stroke-width="1.0" />
<text transform="translate(507.20,234.70)" text-anchor="middle" dominant-baseline="central" style="font-size:6.3px;font-weight:normal;fill:#333;stroke:#333;stroke-width:0.12px;">400</text>
<text transform="translate(361.00,184.50) rotate(-90) scale(0.813,1)" text-anchor="middle" dominant-baseline="central" style="font-size:6.5px;font-weight:normal;fill:#2a2a2a;letter-spacing:0.3px;stroke:#2a2a2a;stroke-width:0.3px;">CD19 count (cells/µL)</text>
<text transform="translate(482.20,171.40)" text-anchor="start" dominant-baseline="central" style="font-size:6.4px;font-weight:normal;fill:#444;stroke:#444;stroke-width:0.12px;font-style:italic;">P</text>
<text transform="translate(487.50,171.40)" text-anchor="start" dominant-baseline="central" style="font-size:6.6px;font-weight:normal;fill:#444;stroke:#444;stroke-width:0.12px;">= .0001</text>
<text transform="translate(450.00,246.00) scale(0.630,1)" text-anchor="middle" dominant-baseline="central" style="font-size:7.9px;font-weight:normal;fill:#2a2a2a;letter-spacing:0.45px;stroke:#2a2a2a;stroke-width:0.38px;">Days post-transplant</text>
<path d="M396.90,202.70 C398.08,202.72 401.82,202.88 404.00,202.80 C406.18,202.72 408.00,202.63 410.00,202.20 C412.00,201.77 414.00,201.08 416.00,200.20 C418.00,199.32 419.67,198.33 422.00,196.90 C424.33,195.47 426.17,194.23 430.00,191.60 C433.83,188.97 438.75,185.53 445.00,181.10 C451.25,176.67 459.43,170.75 467.50,165.00 C475.57,159.25 489.08,149.67 493.40,146.60" fill="none" stroke="#d65a78" stroke-width="1.0"/>
<path d="M393.40,217.19 C394.18,217.29 396.53,217.59 398.10,217.75 C399.66,217.91 401.23,218.03 402.79,218.14 C404.36,218.24 405.92,218.32 407.49,218.37 C409.05,218.42 410.62,218.45 412.18,218.45 C413.75,218.46 415.31,218.44 416.88,218.41 C418.44,218.37 420.01,218.31 421.57,218.24 C423.14,218.16 424.70,218.07 426.27,217.96 C427.83,217.85 429.40,217.72 430.97,217.58 C432.53,217.44 434.10,217.28 435.66,217.11 C437.23,216.94 438.79,216.75 440.36,216.56 C441.92,216.37 443.49,216.16 445.05,215.95 C446.62,215.74 448.18,215.51 449.75,215.28 C451.31,215.05 452.88,214.82 454.44,214.57 C456.01,214.33 457.57,214.08 459.14,213.83 C460.70,213.58 462.27,213.33 463.83,213.07 C465.40,212.82 466.97,212.56 468.53,212.30 C470.10,212.05 471.66,211.79 473.23,211.53 C474.79,211.28 476.36,211.03 477.92,210.78 C479.49,210.53 481.05,210.29 482.62,210.05 C484.18,209.81 485.75,209.58 487.31,209.36 C488.88,209.14 490.44,208.92 492.01,208.71 C493.57,208.51 495.14,208.31 496.70,208.13 C498.27,207.94 500.62,207.70 501.40,207.61" fill="none" stroke="#5a88a8" stroke-width="1.0"/>
<path d="M397.60,220.84 C398.33,220.30 400.50,218.52 401.95,217.59 C403.40,216.65 404.85,215.89 406.30,215.23 C407.76,214.57 409.21,214.06 410.66,213.64 C412.11,213.22 413.56,212.92 415.01,212.69 C416.46,212.46 417.91,212.34 419.36,212.26 C420.81,212.18 422.26,212.19 423.71,212.21 C425.16,212.24 426.61,212.33 428.07,212.43 C429.52,212.53 430.97,212.66 432.42,212.82 C433.87,212.97 435.32,213.15 436.77,213.35 C438.22,213.54 439.67,213.77 441.12,214.00 C442.57,214.24 444.02,214.50 445.47,214.76 C446.92,215.03 448.38,215.32 449.83,215.62 C451.28,215.91 452.73,216.23 454.18,216.54 C455.63,216.86 457.08,217.19 458.53,217.52 C459.98,217.86 461.43,218.20 462.88,218.54 C464.33,218.88 465.78,219.23 467.23,219.58 C468.69,219.92 470.14,220.27 471.59,220.61 C473.04,220.96 474.49,221.30 475.94,221.63 C477.39,221.97 478.84,222.30 480.29,222.62 C481.74,222.94 483.19,223.25 484.64,223.55 C486.09,223.85 487.54,224.14 489.00,224.42 C490.45,224.69 491.90,224.95 493.35,225.20 C494.80,225.44 496.97,225.75 497.70,225.87" fill="none" stroke="#d65a78" stroke-width="1.0"/>
<path d="M393.40,225.70 L431.70,225.70" fill="none" stroke="#2a4868" stroke-width="1.2"/>
<path d="M397.60,211.60 L501.40,183.10" fill="none" stroke="#b0223f" stroke-width="1.4"/>
<path d="M393.40,222.20 L501.80,220.60" fill="none" stroke="#1d3d63" stroke-width="1.15" stroke-dasharray="2.7,2.2"/>
<line x1="208.90" y1="257.70" x2="217.20" y2="257.70" stroke="#c23a58" stroke-width="1.4" />
<text transform="translate(220.80,257.50) scale(0.991,1)" text-anchor="start" dominant-baseline="central" style="font-size:5.9px;font-weight:normal;fill:#333;stroke:#333;stroke-width:0.18px;">T-reg graft (+ PPX) fit</text>
<line x1="282.00" y1="257.70" x2="290.20" y2="257.70" stroke="#3a5a82" stroke-width="1.2" stroke-dasharray="2.8,2.4"/>
<text transform="translate(293.80,257.50) scale(0.994,1)" text-anchor="start" dominant-baseline="central" style="font-size:5.9px;font-weight:normal;fill:#333;stroke:#333;stroke-width:0.18px;">T-reg graft (– PPX) fit</text>
<text transform="translate(6.80,270.20)" text-anchor="start" dominant-baseline="central" style="font-size:11.0px;font-weight:bold;fill:#111;stroke:#111;stroke-width:0.45px;">D</text>
<line x1="47.30" y1="281.20" x2="47.30" y2="362.60" stroke="#383838" stroke-width="1.25" />
<line x1="46.70" y1="362.00" x2="166.20" y2="362.00" stroke="#383838" stroke-width="1.25" />
<line x1="44.30" y1="283.50" x2="47.30" y2="283.50" stroke="#383838" stroke-width="1.0" />
<text transform="translate(41.50,283.10)" text-anchor="end" dominant-baseline="central" style="font-size:6.3px;font-weight:normal;fill:#333;stroke:#333;stroke-width:0.12px;">400</text>
<line x1="44.30" y1="303.20" x2="47.30" y2="303.20" stroke="#383838" stroke-width="1.0" />
<text transform="translate(41.50,302.80)" text-anchor="end" dominant-baseline="central" style="font-size:6.3px;font-weight:normal;fill:#333;stroke:#333;stroke-width:0.12px;">300</text>
<line x1="44.30" y1="322.80" x2="47.30" y2="322.80" stroke="#383838" stroke-width="1.0" />
<text transform="translate(41.50,322.40)" text-anchor="end" dominant-baseline="central" style="font-size:6.3px;font-weight:normal;fill:#333;stroke:#333;stroke-width:0.12px;">200</text>
<line x1="44.30" y1="342.40" x2="47.30" y2="342.40" stroke="#383838" stroke-width="1.0" />
<text transform="translate(41.50,342.00)" text-anchor="end" dominant-baseline="central" style="font-size:6.3px;font-weight:normal;fill:#333;stroke:#333;stroke-width:0.12px;">100</text>
<line x1="44.30" y1="362.00" x2="47.30" y2="362.00" stroke="#383838" stroke-width="1.0" />
<text transform="translate(41.50,361.60)" text-anchor="end" dominant-baseline="central" style="font-size:6.3px;font-weight:normal;fill:#333;stroke:#333;stroke-width:0.12px;">0</text>
<line x1="47.40" y1="362.00" x2="47.40" y2="364.80" stroke="#383838" stroke-width="1.0" />
<text transform="translate(47.40,370.60)" text-anchor="middle" dominant-baseline="central" style="font-size:6.3px;font-weight:normal;fill:#333;stroke:#333;stroke-width:0.12px;">0</text>
<line x1="76.60" y1="362.00" x2="76.60" y2="364.80" stroke="#383838" stroke-width="1.0" />
<text transform="translate(76.60,370.60)" text-anchor="middle" dominant-baseline="central" style="font-size:6.3px;font-weight:normal;fill:#333;stroke:#333;stroke-width:0.12px;">50</text>
<line x1="105.80" y1="362.00" x2="105.80" y2="364.80" stroke="#383838" stroke-width="1.0" />
<text transform="translate(105.80,370.60)" text-anchor="middle" dominant-baseline="central" style="font-size:6.3px;font-weight:normal;fill:#333;stroke:#333;stroke-width:0.12px;">100</text>
<line x1="135.00" y1="362.00" x2="135.00" y2="364.80" stroke="#383838" stroke-width="1.0" />
<text transform="translate(135.00,370.60)" text-anchor="middle" dominant-baseline="central" style="font-size:6.3px;font-weight:normal;fill:#333;stroke:#333;stroke-width:0.12px;">150</text>
<line x1="164.20" y1="362.00" x2="164.20" y2="364.80" stroke="#383838" stroke-width="1.0" />
<text transform="translate(164.20,370.60)" text-anchor="middle" dominant-baseline="central" style="font-size:6.3px;font-weight:normal;fill:#333;stroke:#333;stroke-width:0.12px;">200</text>
<text transform="translate(24.40,320.75) rotate(-90) scale(0.814,1)" text-anchor="middle" dominant-baseline="central" style="font-size:6.5px;font-weight:normal;fill:#2a2a2a;letter-spacing:0.3px;stroke:#2a2a2a;stroke-width:0.3px;">CD4 count (cells/µL)</text>
<text transform="translate(138.10,318.30)" text-anchor="start" dominant-baseline="central" style="font-size:6.4px;font-weight:normal;fill:#444;stroke:#444;stroke-width:0.12px;font-style:italic;">P</text>
<text transform="translate(143.40,318.30)" text-anchor="start" dominant-baseline="central" style="font-size:6.6px;font-weight:normal;fill:#444;stroke:#444;stroke-width:0.12px;">= .1120</text>
<text transform="translate(108.50,381.40) scale(0.630,1)" text-anchor="middle" dominant-baseline="central" style="font-size:7.9px;font-weight:normal;fill:#2a2a2a;letter-spacing:0.45px;stroke:#2a2a2a;stroke-width:0.38px;">Days post-transplant</text>
<path d="M47.5,337.0 C75,337.6 110,320.5 152.3,303.8" fill="none" stroke="#5a88a8" stroke-width="1.0"/>
<path d="M47.50,353.00 L152.30,328.40" fill="none" stroke="#d65a78" stroke-width="1.0"/>
<path d="M47.50,359.13 C48.26,358.83 50.54,357.90 52.06,357.34 C53.58,356.77 55.09,356.24 56.61,355.73 C58.13,355.22 59.65,354.75 61.17,354.30 C62.69,353.85 64.21,353.43 65.73,353.03 C67.24,352.64 68.76,352.27 70.28,351.93 C71.80,351.59 73.32,351.27 74.84,350.98 C76.36,350.68 77.88,350.41 79.40,350.17 C80.91,349.92 82.43,349.70 83.95,349.49 C85.47,349.29 86.99,349.11 88.51,348.95 C90.03,348.78 91.55,348.64 93.07,348.52 C94.58,348.40 96.10,348.29 97.62,348.21 C99.14,348.12 100.66,348.05 102.18,348.00 C103.70,347.94 105.22,347.91 106.73,347.88 C108.25,347.86 109.77,347.85 111.29,347.86 C112.81,347.86 114.33,347.88 115.85,347.91 C117.37,347.94 118.89,347.99 120.40,348.04 C121.92,348.09 123.44,348.16 124.96,348.23 C126.48,348.31 128.00,348.39 129.52,348.48 C131.04,348.57 132.56,348.67 134.07,348.78 C135.59,348.89 137.11,349.00 138.63,349.12 C140.15,349.24 141.67,349.36 143.19,349.49 C144.71,349.62 146.22,349.75 147.74,349.89 C149.26,350.02 151.54,350.23 152.30,350.30" fill="none" stroke="#5a88a8" stroke-width="1.0"/>
<path d="M47.50,358.00 L152.30,343.20" fill="none" stroke="#d65a78" stroke-width="1.0"/>
<path d="M47.50,355.40 L152.30,335.90" fill="none" stroke="#b0223f" stroke-width="1.4"/>
<path d="M47.50,347.40 L152.30,327.70" fill="none" stroke="#1d3d63" stroke-width="1.15" stroke-dasharray="2.7,2.2"/>
<line x1="218.00" y1="281.50" x2="218.00" y2="362.60" stroke="#383838" stroke-width="1.25" />
<line x1="217.40" y1="362.00" x2="337.20" y2="362.00" stroke="#383838" stroke-width="1.25" />
<line x1="215.00" y1="283.50" x2="218.00" y2="283.50" stroke="#383838" stroke-width="1.0" />
<text transform="translate(212.20,283.10)" text-anchor="end" dominant-baseline="central" style="font-size:6.3px;font-weight:normal;fill:#333;stroke:#333;stroke-width:0.12px;">80</text>
<line x1="215.00" y1="303.20" x2="218.00" y2="303.20" stroke="#383838" stroke-width="1.0" />
<text transform="translate(212.20,302.80)" text-anchor="end" dominant-baseline="central" style="font-size:6.3px;font-weight:normal;fill:#333;stroke:#333;stroke-width:0.12px;">60</text>
<line x1="215.00" y1="322.80" x2="218.00" y2="322.80" stroke="#383838" stroke-width="1.0" />
<text transform="translate(212.20,322.40)" text-anchor="end" dominant-baseline="central" style="font-size:6.3px;font-weight:normal;fill:#333;stroke:#333;stroke-width:0.12px;">40</text>
<line x1="215.00" y1="342.40" x2="218.00" y2="342.40" stroke="#383838" stroke-width="1.0" />
<text transform="translate(212.20,342.00)" text-anchor="end" dominant-baseline="central" style="font-size:6.3px;font-weight:normal;fill:#333;stroke:#333;stroke-width:0.12px;">20</text>
<line x1="215.00" y1="362.00" x2="218.00" y2="362.00" stroke="#383838" stroke-width="1.0" />
<text transform="translate(212.20,361.60)" text-anchor="end" dominant-baseline="central" style="font-size:6.3px;font-weight:normal;fill:#333;stroke:#333;stroke-width:0.12px;">0</text>
<line x1="218.30" y1="362.00" x2="218.30" y2="364.80" stroke="#383838" stroke-width="1.0" />
<text transform="translate(218.30,370.60)" text-anchor="middle" dominant-baseline="central" style="font-size:6.3px;font-weight:normal;fill:#333;stroke:#333;stroke-width:0.12px;">0</text>
<line x1="247.50" y1="362.00" x2="247.50" y2="364.80" stroke="#383838" stroke-width="1.0" />
<text transform="translate(247.50,370.60)" text-anchor="middle" dominant-baseline="central" style="font-size:6.3px;font-weight:normal;fill:#333;stroke:#333;stroke-width:0.12px;">50</text>
<line x1="276.70" y1="362.00" x2="276.70" y2="364.80" stroke="#383838" stroke-width="1.0" />
<text transform="translate(276.70,370.60)" text-anchor="middle" dominant-baseline="central" style="font-size:6.3px;font-weight:normal;fill:#333;stroke:#333;stroke-width:0.12px;">100</text>
<line x1="305.90" y1="362.00" x2="305.90" y2="364.80" stroke="#383838" stroke-width="1.0" />
<text transform="translate(305.90,370.60)" text-anchor="middle" dominant-baseline="central" style="font-size:6.3px;font-weight:normal;fill:#333;stroke:#333;stroke-width:0.12px;">150</text>
<line x1="335.10" y1="362.00" x2="335.10" y2="364.80" stroke="#383838" stroke-width="1.0" />
<text transform="translate(335.10,370.60)" text-anchor="middle" dominant-baseline="central" style="font-size:6.3px;font-weight:normal;fill:#333;stroke:#333;stroke-width:0.12px;">200</text>
<text transform="translate(197.50,321.25) rotate(-90) scale(0.818,1)" text-anchor="middle" dominant-baseline="central" style="font-size:6.5px;font-weight:normal;fill:#2a2a2a;letter-spacing:0.3px;stroke:#2a2a2a;stroke-width:0.3px;">Treg count (cells/µL)</text>
<text transform="translate(310.70,289.60)" text-anchor="start" dominant-baseline="central" style="font-size:6.4px;font-weight:normal;fill:#444;stroke:#444;stroke-width:0.12px;font-style:italic;">P</text>
<text transform="translate(316.00,289.60)" text-anchor="start" dominant-baseline="central" style="font-size:6.6px;font-weight:normal;fill:#444;stroke:#444;stroke-width:0.12px;">= .2721</text>
<text transform="translate(278.20,381.10) scale(0.630,1)" text-anchor="middle" dominant-baseline="central" style="font-size:7.9px;font-weight:normal;fill:#2a2a2a;letter-spacing:0.45px;stroke:#2a2a2a;stroke-width:0.38px;">Days post-transplant</text>
<path d="M218.9,342.6 C245,337 285,320 324,296.8" fill="none" stroke="#5a88a8" stroke-width="1.0"/>
<path d="M218.90,352.80 C228.25,350.12 257.82,341.95 275.00,336.70 C292.18,331.45 314.17,323.87 322.00,321.30" fill="none" stroke="#d65a78" stroke-width="1.0"/>
<path d="M218.9,359.8 C240,350 280,344 322,336.3" fill="none" stroke="#5a88a8" stroke-width="1.0"/>
<path d="M218.9,357.4 C235,351 270,347 323.4,343.0" fill="none" stroke="#d65a78" stroke-width="1.0"/>
<path d="M218.90,353.90 L324.00,331.80" fill="none" stroke="#b0223f" stroke-width="1.4"/>
<path d="M218.90,350.60 L324.60,315.50" fill="none" stroke="#1d3d63" stroke-width="1.15" stroke-dasharray="2.7,2.2"/>
<line x1="389.20" y1="281.50" x2="389.20" y2="362.60" stroke="#383838" stroke-width="1.25" />
<line x1="388.60" y1="362.00" x2="508.40" y2="362.00" stroke="#383838" stroke-width="1.25" />
<line x1="386.20" y1="283.50" x2="389.20" y2="283.50" stroke="#383838" stroke-width="1.0" />
<text transform="translate(383.40,283.10)" text-anchor="end" dominant-baseline="central" style="font-size:6.3px;font-weight:normal;fill:#333;stroke:#333;stroke-width:0.12px;">30</text>
<line x1="386.20" y1="309.60" x2="389.20" y2="309.60" stroke="#383838" stroke-width="1.0" />
<text transform="translate(383.40,309.20)" text-anchor="end" dominant-baseline="central" style="font-size:6.3px;font-weight:normal;fill:#333;stroke:#333;stroke-width:0.12px;">20</text>
<line x1="386.20" y1="335.60" x2="389.20" y2="335.60" stroke="#383838" stroke-width="1.0" />
<text transform="translate(383.40,335.20)" text-anchor="end" dominant-baseline="central" style="font-size:6.3px;font-weight:normal;fill:#333;stroke:#333;stroke-width:0.12px;">10</text>
<line x1="386.20" y1="362.00" x2="389.20" y2="362.00" stroke="#383838" stroke-width="1.0" />
<text transform="translate(383.40,361.60)" text-anchor="end" dominant-baseline="central" style="font-size:6.3px;font-weight:normal;fill:#333;stroke:#333;stroke-width:0.12px;">0</text>
<line x1="389.20" y1="362.00" x2="389.20" y2="364.80" stroke="#383838" stroke-width="1.0" />
<text transform="translate(389.20,370.60)" text-anchor="middle" dominant-baseline="central" style="font-size:6.3px;font-weight:normal;fill:#333;stroke:#333;stroke-width:0.12px;">0</text>
<line x1="418.30" y1="362.00" x2="418.30" y2="364.80" stroke="#383838" stroke-width="1.0" />
<text transform="translate(418.30,370.60)" text-anchor="middle" dominant-baseline="central" style="font-size:6.3px;font-weight:normal;fill:#333;stroke:#333;stroke-width:0.12px;">50</text>
<line x1="447.50" y1="362.00" x2="447.50" y2="364.80" stroke="#383838" stroke-width="1.0" />
<text transform="translate(447.50,370.60)" text-anchor="middle" dominant-baseline="central" style="font-size:6.3px;font-weight:normal;fill:#333;stroke:#333;stroke-width:0.12px;">100</text>
<line x1="476.70" y1="362.00" x2="476.70" y2="364.80" stroke="#383838" stroke-width="1.0" />
<text transform="translate(476.70,370.60)" text-anchor="middle" dominant-baseline="central" style="font-size:6.3px;font-weight:normal;fill:#333;stroke:#333;stroke-width:0.12px;">150</text>
<line x1="505.90" y1="362.00" x2="505.90" y2="364.80" stroke="#383838" stroke-width="1.0" />
<text transform="translate(505.90,370.60)" text-anchor="middle" dominant-baseline="central" style="font-size:6.3px;font-weight:normal;fill:#333;stroke:#333;stroke-width:0.12px;">200</text>
<text transform="translate(368.00,321.40) rotate(-90) scale(0.780,1)" text-anchor="middle" dominant-baseline="central" style="font-size:6.5px;font-weight:normal;fill:#2a2a2a;letter-spacing:0.3px;stroke:#2a2a2a;stroke-width:0.3px;">CD4:treg ratio</text>
<text transform="translate(480.80,292.40)" text-anchor="start" dominant-baseline="central" style="font-size:6.4px;font-weight:normal;fill:#444;stroke:#444;stroke-width:0.12px;font-style:italic;">P</text>
<text transform="translate(486.10,292.40)" text-anchor="start" dominant-baseline="central" style="font-size:6.6px;font-weight:normal;fill:#444;stroke:#444;stroke-width:0.12px;">= .4453</text>
<text transform="translate(449.00,381.10) scale(0.630,1)" text-anchor="middle" dominant-baseline="central" style="font-size:7.9px;font-weight:normal;fill:#2a2a2a;letter-spacing:0.45px;stroke:#2a2a2a;stroke-width:0.38px;">Days post-transplant</text>
<path d="M389.90,321.55 C390.66,321.77 392.93,322.46 394.45,322.85 C395.97,323.24 397.49,323.58 399.00,323.87 C400.52,324.17 402.04,324.42 403.56,324.63 C405.07,324.84 406.59,325.01 408.11,325.14 C409.63,325.27 411.14,325.36 412.66,325.42 C414.18,325.48 415.70,325.50 417.21,325.49 C418.73,325.48 420.25,325.43 421.77,325.35 C423.28,325.28 424.80,325.17 426.32,325.04 C427.83,324.90 429.35,324.74 430.87,324.55 C432.39,324.37 433.90,324.15 435.42,323.92 C436.94,323.68 438.46,323.42 439.97,323.15 C441.49,322.87 443.01,322.57 444.53,322.25 C446.04,321.94 447.56,321.60 449.08,321.26 C450.60,320.91 452.11,320.55 453.63,320.17 C455.15,319.80 456.67,319.41 458.18,319.02 C459.70,318.62 461.22,318.22 462.73,317.80 C464.25,317.39 465.77,316.97 467.29,316.55 C468.80,316.13 470.32,315.70 471.84,315.27 C473.36,314.84 474.87,314.41 476.39,313.98 C477.91,313.55 479.43,313.13 480.94,312.70 C482.46,312.28 483.98,311.86 485.50,311.44 C487.01,311.03 488.53,310.62 490.05,310.22 C491.57,309.83 493.84,309.25 494.60,309.06" fill="none" stroke="#5a88a8" stroke-width="1.0"/>
<path d="M389.90,335.80 C390.66,335.93 392.93,336.38 394.44,336.61 C395.96,336.85 397.47,337.05 398.99,337.22 C400.50,337.39 402.02,337.52 403.53,337.63 C405.04,337.73 406.56,337.81 408.07,337.86 C409.59,337.90 411.10,337.92 412.62,337.92 C414.13,337.91 415.65,337.88 417.16,337.82 C418.68,337.76 420.19,337.68 421.70,337.58 C423.22,337.48 424.73,337.36 426.25,337.22 C427.76,337.08 429.28,336.91 430.79,336.74 C432.31,336.56 433.82,336.36 435.33,336.15 C436.85,335.95 438.36,335.72 439.88,335.49 C441.39,335.25 442.91,335.00 444.42,334.74 C445.94,334.49 447.45,334.22 448.97,333.94 C450.48,333.67 451.99,333.38 453.51,333.09 C455.02,332.80 456.54,332.51 458.05,332.21 C459.57,331.91 461.08,331.61 462.60,331.31 C464.11,331.01 465.62,330.70 467.14,330.40 C468.65,330.10 470.17,329.80 471.68,329.50 C473.20,329.21 474.71,328.91 476.23,328.62 C477.74,328.34 479.26,328.05 480.77,327.78 C482.28,327.51 483.80,327.24 485.31,326.98 C486.83,326.73 488.34,326.48 489.86,326.25 C491.37,326.02 493.64,325.70 494.40,325.59" fill="none" stroke="#d65a78" stroke-width="1.0"/>
<path d="M389.90,349.87 C390.49,349.72 392.27,349.22 393.45,348.95 C394.63,348.68 395.81,348.44 397.00,348.24 C398.18,348.04 399.36,347.87 400.54,347.73 C401.73,347.59 402.91,347.48 404.09,347.40 C405.27,347.32 406.46,347.27 407.64,347.24 C408.82,347.22 410.00,347.23 411.19,347.26 C412.37,347.29 413.55,347.34 414.73,347.42 C415.92,347.50 417.10,347.60 418.28,347.73 C419.47,347.85 420.65,348.00 421.83,348.17 C423.01,348.33 424.20,348.52 425.38,348.73 C426.56,348.93 427.74,349.16 428.93,349.40 C430.11,349.64 431.29,349.89 432.47,350.16 C433.66,350.43 434.84,350.72 436.02,351.02 C437.20,351.32 438.39,351.63 439.57,351.95 C440.75,352.27 441.93,352.61 443.12,352.95 C444.30,353.29 445.48,353.64 446.67,354.00 C447.85,354.36 449.03,354.73 450.21,355.10 C451.40,355.47 452.58,355.85 453.76,356.23 C454.94,356.61 456.13,356.99 457.31,357.38 C458.49,357.76 459.67,358.15 460.86,358.54 C462.04,358.93 463.22,359.32 464.40,359.70 C465.59,360.09 466.77,360.47 467.95,360.85 C469.13,361.23 470.91,361.80 471.50,361.98" fill="none" stroke="#5a88a8" stroke-width="1.0"/>
<path d="M389.90,350.54 C390.38,350.42 391.82,350.03 392.78,349.82 C393.74,349.61 394.70,349.44 395.67,349.30 C396.63,349.16 397.59,349.05 398.55,348.97 C399.51,348.88 400.47,348.83 401.43,348.81 C402.39,348.78 403.35,348.78 404.31,348.81 C405.27,348.83 406.23,348.88 407.20,348.96 C408.16,349.03 409.12,349.13 410.08,349.24 C411.04,349.36 412.00,349.50 412.96,349.65 C413.92,349.80 414.88,349.98 415.84,350.17 C416.80,350.36 417.77,350.56 418.73,350.78 C419.69,351.00 420.65,351.24 421.61,351.48 C422.57,351.73 423.53,351.99 424.49,352.25 C425.45,352.52 426.41,352.80 427.37,353.09 C428.33,353.37 429.30,353.66 430.26,353.96 C431.22,354.26 432.18,354.57 433.14,354.87 C434.10,355.18 435.06,355.49 436.02,355.81 C436.98,356.12 437.94,356.43 438.90,356.74 C439.87,357.06 440.83,357.37 441.79,357.68 C442.75,357.99 443.71,358.30 444.67,358.60 C445.63,358.90 446.59,359.20 447.55,359.49 C448.51,359.77 449.47,360.06 450.43,360.33 C451.40,360.60 452.36,360.87 453.32,361.12 C454.28,361.37 455.72,361.72 456.20,361.84" fill="none" stroke="#d65a78" stroke-width="1.0"/>
<path d="M389.90,342.40 L494.40,349.30" fill="none" stroke="#b0223f" stroke-width="1.4"/>
<path d="M389.90,335.50 L494.40,338.90" fill="none" stroke="#1d3d63" stroke-width="1.15" stroke-dasharray="2.7,2.2"/>
</svg>
<div id="bd"></div>
</body></html>
